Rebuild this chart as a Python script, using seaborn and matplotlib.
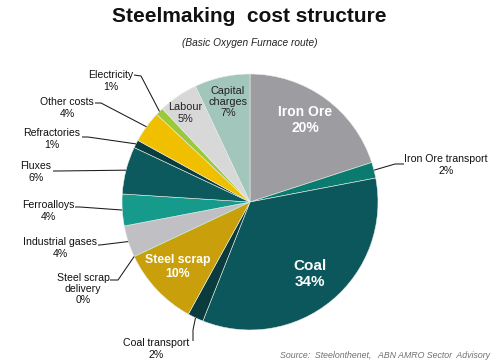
import numpy as np
import matplotlib
import matplotlib.pyplot as plt
import seaborn as sns

matplotlib.use('Agg')
sns.set_theme(style='white')
plt.rcParams['font.family'] = ['Liberation Sans', 'DejaVu Sans']

# data, clockwise from 12 o'clock
categories = ['Iron Ore', 'Iron Ore transport', 'Coal', 'Coal transport', 'Steel scrap',
              'Steel scrap\ndelivery', 'Industrial gases', 'Ferroalloys', 'Fluxes',
              'Refractories', 'Other costs', 'Electricity', 'Labour', 'Capital\ncharges']
shares = [20, 2, 34, 2, 10, 0, 4, 4, 6, 1, 4, 1, 5, 7]
colors = ['#9d9da1', '#0b7a6f', '#0c575b', '#0a3c3e', '#c9a00c', '#9cc83c', '#c0c0c4',
          '#159a8b', '#0d5a5e', '#0a3d40', '#f0c000', '#9cc83c', '#d8d8d8', '#a2c5bc']

# layout (pixel coords of the 499x364 image)
W, H = 499, 364
CX, CY, R = 250, 202, 128

def px(x, y):
    return ((x - CX) / R, (CY - y) / R)

# label -> (text centre, style, leader start, leader knee)
layout = {
    'Iron Ore': ((305, 120), 'in_big', None, None),
    'Coal': ((310, 274), 'in_huge', None, None),
    'Steel scrap': ((178, 267), 'in_mid', None, None),
    'Labour': ((185, 113), 'in_dark', None, None),
    'Capital\ncharges': ((228, 102), 'in_dark', None, None),
    'Iron Ore transport': ((446, 165), 'out', (404, 164), (395, 164)),
    'Coal transport': ((156, 349), 'out', (193, 341), (193, 330)),
    'Steel scrap\ndelivery': ((83, 289), 'out', (110, 280), (118, 280)),
    'Industrial gases': ((60, 248), 'out', (98, 245), (100, 245)),
    'Ferroalloys': ((48, 211), 'out', (75, 207), (80, 207)),
    'Fluxes': ((36, 172), 'out', (53, 171), (58, 171)),
    'Refractories': ((52, 139), 'out', (82, 137), (88, 137)),
    'Other costs': ((67, 108), 'out', (95, 103), (101, 103)),
    'Electricity': ((111, 81), 'out', (134, 75), (141, 76)),
}

fig = plt.figure(figsize=(W / 100, H / 100), dpi=100)
ax = fig.add_axes([0, 0, 1, 1])

wedges, _ = ax.pie(shares, colors=colors, startangle=90, counterclock=False,
                   radius=1, center=(0, 0),
                   wedgeprops=dict(edgecolor='#e8efe8', linewidth=0.4))
wedges[5].set_edgecolor('#9cc83c')
wedges[5].set_linewidth(1.0)

ax.set_xlim(-CX / R, (W - CX) / R)
ax.set_ylim(-(H - CY) / R, CY / R)
ax.set_aspect('equal')
ax.axis('off')

styles = {
    'in_big': dict(color='white', fontsize=10, fontweight='bold'),
    'in_huge': dict(color='white', fontsize=11, fontweight='bold'),
    'in_mid': dict(color='white', fontsize=8.8, fontweight='bold'),
    'in_dark': dict(color='#222222', fontsize=7.8),
    'out': dict(color='#111111', fontsize=7.6),
}

cum = np.cumsum([0] + shares)
total = cum[-1]
for i, name in enumerate(categories):
    (tx, ty), style, start, knee = layout[name]
    label = f'{name}\n{shares[i]}%'
    ax.text(*px(tx, ty), label, ha='center', va='center', linespacing=1.15,
            **styles[style])
    if start is not None:
        mid = (cum[i] + cum[i + 1]) / 2 / total * 2 * np.pi
        ex, ey = np.sin(mid), np.cos(mid)
        sx, sy = px(*start)
        kx, ky = px(*knee)
        ax.plot([sx, kx, ex], [sy, ky, ey], color='#1a1a1a', lw=0.75,
                solid_capstyle='butt')

fig.text(0.5, 1 - 16 / H, 'Steelmaking  cost structure', ha='center', va='center',
         fontsize=15, fontweight='bold', color='#111111')
fig.text(0.5, 1 - 43 / H, '(Basic Oxygen Furnace route)', ha='center', va='center',
         fontsize=7.3, fontstyle='italic', color='#222222')
fig.text(490 / W, 1 - 355 / H, 'Source:  Steelonthenet,   ABN AMRO Sector  Advisory',
         ha='right', va='center', fontsize=6.3, fontstyle='italic', color='#707070')

fig.savefig('out.png', dpi=100, facecolor='white')
